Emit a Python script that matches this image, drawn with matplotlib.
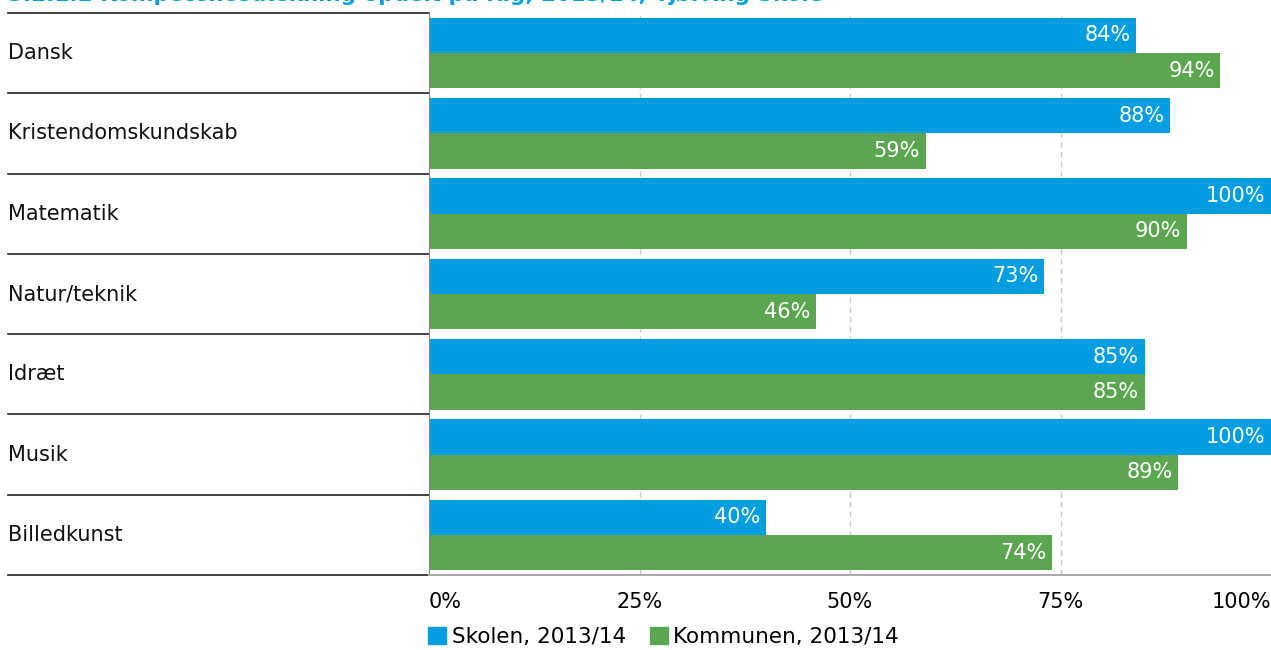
import numpy as np
import matplotlib
matplotlib.use('Agg')
import matplotlib.pyplot as plt
from matplotlib.patches import Patch

# Data
fag = ['Dansk', 'Kristendomskundskab', 'Matematik', 'Natur/teknik',
       'Idræt', 'Musik', 'Billedkunst']
skolen = [84, 88, 100, 73, 85, 100, 40]
kommunen = [94, 59, 90, 46, 85, 89, 74]
serie_navne = ['Skolen, 2013/14', 'Kommunen, 2013/14']
xticks = [0, 25, 50, 75, 100]
xtick_labels = ['0%', '25%', '50%', '75%', '100%']
titel = '3.2.1.2 Kompetencedækning opdelt på fag, 2013/14, Tjørring Skole'

blaa = '#009EE0'
groen = '#5CA651'
fs = 15

plt.rcParams['font.family'] = ['DejaVu Sans']

W, H = 1271, 650
fig = plt.figure(figsize=(W / 100, H / 100), dpi=100)
ax = fig.add_axes([429 / W, 1 - 575 / H, 1 - 429 / W, (575 - 13) / H])

n = len(fag)
y = np.arange(n)
ax.barh(y + 0.06, skolen, height=0.44, align='edge', color=blaa)
ax.barh(y + 0.5, kommunen, height=0.44, align='edge', color=groen)

ax.set_xlim(0, 100)
ax.set_ylim(n, 0)

# Vaerdier inde i soejlerne
for i in range(n):
    ax.annotate(f'{skolen[i]}%', (skolen[i], i + 0.28), xytext=(-4, 0),
                textcoords='offset points', ha='right', va='center',
                color='white', fontsize=fs)
    ax.annotate(f'{kommunen[i]}%', (kommunen[i], i + 0.72), xytext=(-4, 0),
                textcoords='offset points', ha='right', va='center',
                color='white', fontsize=fs)

# Gitterlinjer
for v in [25, 50, 75]:
    ax.axvline(v, color='#C8C8C8', linestyle=(0, (4, 3)), linewidth=1, zorder=0)

# Kategorinavne og skillelinjer til venstre
for i in range(n):
    ax.text(-0.5, i + 0.5, fag[i], transform=ax.get_yaxis_transform(),
            ha='left', va='center', fontsize=fs, color='#111111')
for i in range(n + 1):
    ax.axhline(i, xmin=-0.5, xmax=0, color='#222222', linewidth=1.2, clip_on=False)

for s in ['top', 'right']:
    ax.spines[s].set_visible(False)
ax.spines['left'].set_color('#888888')
ax.spines['bottom'].set_color('#AAAAAA')
ax.spines['bottom'].set_linewidth(1.5)

ax.set_yticks([])
ax.set_xticks(xticks)
ax.set_xticklabels(xtick_labels, fontsize=fs)
ax.tick_params(axis='x', length=0, pad=12)
lbls = ax.get_xticklabels()
lbls[0].set_ha('left')
lbls[-1].set_ha('right')

# Titel (delvist afskaaret i toppen)
fig.text(8 / W, 1 - 1 / H, titel, ha='left', va='baseline', fontsize=15.5,
         fontweight='bold', color=blaa)

handles = [Patch(color=blaa), Patch(color=groen)]
fig.legend(handles, serie_navne, loc='center left',
           bbox_to_anchor=(428 / W, 1 - 637 / H), ncol=2, frameon=False,
           fontsize=15.5, handlelength=0.85, handleheight=0.85,
           handletextpad=0.25, columnspacing=1.1, borderaxespad=0,
           borderpad=0)

fig.savefig('out.png', dpi=100)
